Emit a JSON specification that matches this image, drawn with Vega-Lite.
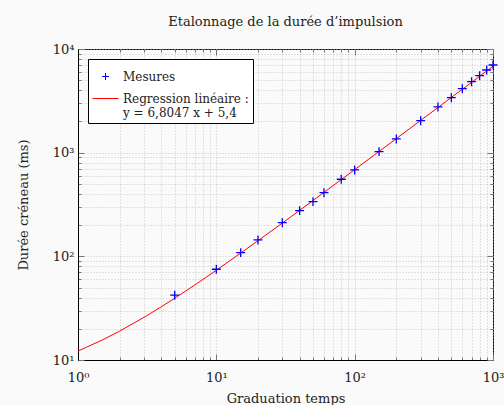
{
  "$schema": "https://vega.github.io/schema/vega-lite/v6.json",
  "width": 415,
  "height": 311,
  "autosize": {"type": "none"},
  "padding": {"left": 78, "top": 49, "right": 11, "bottom": 45},
  "background": "#fafafa",
  "title": {"text": "Etalonnage de la durée d’impulsion", "font": "DejaVu Serif", "fontSize": 13, "fontWeight": "normal", "color": "#222", "offset": 14},
  "config": {
    "view": {"stroke": "black", "strokeWidth": 1, "fill": "#fafafa"},
    "axis": {"labelFont": "DejaVu Serif", "titleFont": "DejaVu Serif", "labelFontSize": 13, "titleFontSize": 13, "titleFontWeight": "normal", "labelColor": "#222", "titleColor": "#222", "domainColor": "black", "tickColor": "#777777", "gridColor": "#bbbbbb", "gridDash": [1, 2], "gridWidth": 0.8}
  },
  "datasets": {
    "mesures": [
      {"x": 5, "y": 42.2, "serie": "Mesures"},
      {"x": 10, "y": 75.1, "serie": "Mesures"},
      {"x": 15, "y": 108.6, "serie": "Mesures"},
      {"x": 20, "y": 144, "serie": "Mesures"},
      {"x": 30, "y": 211, "serie": "Mesures"},
      {"x": 40, "y": 276, "serie": "Mesures"},
      {"x": 50, "y": 337, "serie": "Mesures"},
      {"x": 60, "y": 411, "serie": "Mesures"},
      {"x": 80, "y": 554, "serie": "Mesures"},
      {"x": 100, "y": 681, "serie": "Mesures"},
      {"x": 150, "y": 1023, "serie": "Mesures"},
      {"x": 200, "y": 1356, "serie": "Mesures"},
      {"x": 300, "y": 2036, "serie": "Mesures"},
      {"x": 400, "y": 2760, "serie": "Mesures"},
      {"x": 500, "y": 3390, "serie": "Mesures"},
      {"x": 600, "y": 4140, "serie": "Mesures"},
      {"x": 700, "y": 4840, "serie": "Mesures"},
      {"x": 800, "y": 5530, "serie": "Mesures"},
      {"x": 900, "y": 6270, "serie": "Mesures"},
      {"x": 1000, "y": 7010, "serie": "Mesures"}
    ],
    "regression": [
      {"x": 1, "y": 12.2, "serie": "Regression linéaire :"},
      {"x": 1.5, "y": 15.6, "serie": "Regression linéaire :"},
      {"x": 2, "y": 19.0, "serie": "Regression linéaire :"},
      {"x": 3, "y": 25.8, "serie": "Regression linéaire :"},
      {"x": 4, "y": 32.6, "serie": "Regression linéaire :"},
      {"x": 5, "y": 39.4, "serie": "Regression linéaire :"},
      {"x": 7, "y": 53.0, "serie": "Regression linéaire :"},
      {"x": 10, "y": 73.4, "serie": "Regression linéaire :"},
      {"x": 15, "y": 107.5, "serie": "Regression linéaire :"},
      {"x": 20, "y": 141.5, "serie": "Regression linéaire :"},
      {"x": 30, "y": 209.5, "serie": "Regression linéaire :"},
      {"x": 50, "y": 345.6, "serie": "Regression linéaire :"},
      {"x": 100, "y": 685.9, "serie": "Regression linéaire :"},
      {"x": 200, "y": 1366.3, "serie": "Regression linéaire :"},
      {"x": 500, "y": 3407.8, "serie": "Regression linéaire :"},
      {"x": 1000, "y": 6810.1, "serie": "Regression linéaire :"}
    ]
  },
  "layer": [
    {
      "data": {"name": "regression"},
      "mark": {"type": "line", "strokeWidth": 1, "clip": true, "color": "#ff0000"},
      "encoding": {
        "x": {"field": "x", "type": "quantitative", "scale": {"type": "log", "domain": [1, 1000]},
          "axis": {"orient": "top", "labels": false, "grid": false, "ticks": true, "title": null, "domain": false,
            "values": [1,2,3,4,5,6,7,8,9,10,20,30,40,50,60,70,80,90,100,200,300,400,500,600,700,800,900,1000],
            "tickSize": {"condition": {"test": "abs(log(datum.value)/LN10 - round(log(datum.value)/LN10)) < 0.000001", "value": -6}, "value": -3}}},
        "y": {"field": "y", "type": "quantitative", "scale": {"type": "log", "domain": [10, 10000]},
          "axis": {"orient": "right", "labels": false, "grid": false, "ticks": true, "title": null, "domain": false,
            "values": [10,20,30,40,50,60,70,80,90,100,200,300,400,500,600,700,800,900,1000,2000,3000,4000,5000,6000,7000,8000,9000,10000],
            "tickSize": {"condition": {"test": "abs(log(datum.value)/LN10 - round(log(datum.value)/LN10)) < 0.000001", "value": -6}, "value": -3}}}
      }
    },
    {
      "data": {"name": "mesures"},
      "mark": {"type": "point", "filled": false, "strokeWidth": 1.3, "size": 1100, "opacity": 1},
      "encoding": {
        "x": {"field": "x", "type": "quantitative",
          "axis": {"orient": "bottom", "title": "Graduation temps", "titlePadding": 8, "labelPadding": 17, "labelFlush": false, "grid": true, "ticks": true,
            "values": [1,2,3,4,5,6,7,8,9,10,20,30,40,50,60,70,80,90,100,200,300,400,500,600,700,800,900,1000],
            "labelExpr": "datum.value == 1 ? '10⁰' : datum.value == 10 ? '10¹' : datum.value == 100 ? '10²' : datum.value == 1000 ? '10³' : ''",
            "tickSize": {"condition": {"test": "abs(log(datum.value)/LN10 - round(log(datum.value)/LN10)) < 0.000001", "value": -6}, "value": -3}}},
        "y": {"field": "y", "type": "quantitative",
          "axis": {"orient": "left", "title": "Durée créneau (ms)", "titlePadding": 22, "labelPadding": 10, "labelFlush": false, "grid": true, "ticks": true,
            "values": [10,20,30,40,50,60,70,80,90,100,200,300,400,500,600,700,800,900,1000,2000,3000,4000,5000,6000,7000,8000,9000,10000],
            "labelExpr": "datum.value == 10 ? '10¹' : datum.value == 100 ? '10²' : datum.value == 1000 ? '10³' : datum.value == 10000 ? '10⁴' : ''",
            "tickSize": {"condition": {"test": "abs(log(datum.value)/LN10 - round(log(datum.value)/LN10)) < 0.000001", "value": -6}, "value": -3}}},
        "color": {"field": "serie", "type": "nominal",
          "scale": {"domain": ["Mesures", "Regression linéaire :"], "range": ["#0000ff", "#ff0000"]},
          "legend": {"title": null, "orient": "top-left", "offset": 10, "strokeColor": "black", "fillColor": "white", "padding": 4,
            "labelFont": "DejaVu Serif", "labelFontSize": 12, "labelColor": "#222", "symbolSize": 676, "symbolStrokeWidth": 1, "rowPadding": 2,
            "labelExpr": "datum.label == 'Mesures' ? 'Mesures' : ['Regression linéaire :', 'y = 6,8047 x + 5,4']"}},
        "shape": {"field": "serie", "type": "nominal",
          "scale": {"domain": ["Mesures", "Regression linéaire :"], "range": ["M-0.27,0H0.27M0,-0.27V0.27", "stroke"]},
          "legend": {"title": null, "orient": "top-left", "offset": 10, "strokeColor": "black", "fillColor": "white", "padding": 4,
            "labelFont": "DejaVu Serif", "labelFontSize": 12, "labelColor": "#222", "symbolSize": 676, "symbolStrokeWidth": 1, "rowPadding": 2,
            "labelExpr": "datum.label == 'Mesures' ? 'Mesures' : ['Regression linéaire :', 'y = 6,8047 x + 5,4']"}}
      }
    }
  ],
  "resolve": {"axis": {"x": "independent", "y": "independent"}}
}
